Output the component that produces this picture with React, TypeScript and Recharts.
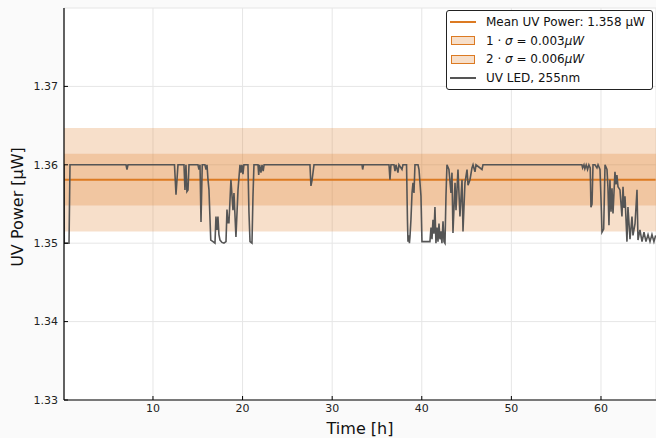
import React from "react";
import {
  ComposedChart,
  Line,
  XAxis,
  YAxis,
  CartesianGrid,
  ReferenceArea,
  Legend,
} from "recharts";

// time in hours
const times = [
  0.07, 0.1, 0.63, 0.74, 6.99, 7.1, 7.21, 12.4, 12.57, 12.79,
  13.46, 13.57, 13.68, 13.79, 13.91, 14.02, 15.02, 15.13, 15.25, 15.36,
  15.5, 15.8, 15.92, 16.03, 16.14, 16.25, 16.45, 16.7, 16.92, 17.03,
  17.14, 17.25, 17.36, 17.48, 17.7, 17.92, 18.15, 18.26, 18.37, 18.48,
  18.7, 18.93, 19.04, 19.26, 19.49, 19.71, 19.82, 19.93, 20.04, 20.15,
  20.6, 20.71, 20.83, 21.05, 21.16, 21.27, 21.72, 21.8, 21.9, 22.05,
  22.17, 22.3, 22.4, 27.52, 27.63, 27.75, 27.97, 33.33, 33.4, 33.5,
  36.34, 36.45, 36.56, 36.9, 37.01, 37.12, 37.34, 37.45, 37.79, 37.9,
  38.3, 38.4, 38.46, 38.57, 38.62, 38.68, 38.79, 38.91, 39.02, 39.13,
  39.24, 39.58, 39.69, 39.91, 40.02, 40.91, 41.03, 41.14, 41.25, 41.36,
  41.47, 41.58, 41.7, 41.81, 41.92, 42.03, 42.14, 42.25, 42.37, 42.48,
  42.59, 42.7, 42.81, 43.03, 43.26, 43.37, 43.48, 43.71, 43.82, 44.04,
  44.26, 44.49, 44.6, 44.82, 45.05, 45.16, 45.38, 45.6, 45.72, 45.94,
  46.05, 46.72, 46.83, 57.87, 57.95, 58.1, 58.2, 58.35, 58.5, 58.65,
  58.8, 58.88, 59.0, 59.11, 59.33, 59.55, 59.67, 59.89, 60.05, 60.11,
  60.3, 60.45, 60.67, 60.78, 60.89, 61.0, 61.12, 61.23, 61.34, 61.56,
  61.67, 61.78, 61.9, 62.12, 62.34, 62.46, 62.57, 62.68, 62.9, 63.01,
  63.24, 63.46, 63.57, 63.8, 64.02, 64.13, 64.35, 64.58, 64.8, 65.02,
  65.25, 65.47, 65.69, 65.91, 66.1,
];

// UV power in µW at each time
const uvPower = [
  1.36, 1.35, 1.35, 1.36, 1.36, 1.3594, 1.36, 1.36, 1.3562, 1.36,
  1.36, 1.3568, 1.36, 1.3566, 1.3568, 1.36, 1.36, 1.3594, 1.36, 1.3527,
  1.36, 1.36, 1.3594, 1.36, 1.3581, 1.3568, 1.3504, 1.3502, 1.35, 1.3534,
  1.3517, 1.3534, 1.3511, 1.3504, 1.3501, 1.35, 1.3502, 1.3543, 1.3526, 1.3526,
  1.3581, 1.3542, 1.3564, 1.3508, 1.3568, 1.36, 1.359, 1.36, 1.3588, 1.36,
  1.36, 1.354, 1.3502, 1.35, 1.356, 1.36, 1.36, 1.3587, 1.36, 1.359,
  1.36, 1.3592, 1.36, 1.36, 1.3573, 1.358, 1.36, 1.36, 1.3594, 1.36,
  1.36, 1.3581, 1.36, 1.36, 1.3592, 1.36, 1.359, 1.36, 1.3594, 1.36,
  1.36, 1.353, 1.3502, 1.351, 1.35, 1.3508, 1.353, 1.3564, 1.3577, 1.3564,
  1.36, 1.36, 1.3594, 1.356, 1.3502, 1.3502, 1.352, 1.3505, 1.353, 1.3512,
  1.3546, 1.35, 1.352, 1.3502, 1.3525, 1.3505, 1.3515, 1.35, 1.3528, 1.3502,
  1.35, 1.356, 1.36, 1.3594, 1.3564, 1.359, 1.3513, 1.3577, 1.3542, 1.3594,
  1.3534, 1.3581, 1.3515, 1.3577, 1.3594, 1.3574, 1.3581, 1.3596, 1.36, 1.3591,
  1.36, 1.3594, 1.36, 1.36, 1.3596, 1.36, 1.3595, 1.36, 1.3594, 1.36,
  1.3596, 1.3546, 1.355, 1.36, 1.36, 1.3596, 1.36, 1.3594, 1.354, 1.3514,
  1.3518, 1.36, 1.3594, 1.357, 1.3523, 1.3581, 1.354, 1.357, 1.3538, 1.3591,
  1.3575, 1.3587, 1.3572, 1.3568, 1.3534, 1.3572, 1.3545, 1.356, 1.3502, 1.3546,
  1.3505, 1.3534, 1.351, 1.3525, 1.3568, 1.3504, 1.3517, 1.3502, 1.3514, 1.3502,
  1.3511, 1.3502, 1.3511, 1.3502, 1.351,
];

const meanPower = 1.3581;
const sigma = 0.0033;

const xTicks = [10, 20, 30, 40, 50, 60];
const yTicks = [1.33, 1.34, 1.35, 1.36, 1.37];

const uvData = times.map((t, i) => ({ t, v: uvPower[i] }));
const meanData = [
  { t: times[0], m: meanPower },
  { t: times[times.length - 1], m: meanPower },
];

const ORANGE = "#dc7a22";
const GRAY = "#555555";
const FONT = "DejaVu Sans";

const XTick = (props: any) => {
  const { x, y, payload } = props;
  return (
    <g>
      <line x1={x} x2={x} y1={y - 4} y2={y - 8} stroke="#000" strokeWidth={1} />
      <text x={x} y={y} dy="0.71em" textAnchor="middle" fontSize={11} fontFamily={FONT} fill="#222">
        {payload.value}
      </text>
    </g>
  );
};

const YTick = (props: any) => {
  const { x, y, payload } = props;
  return (
    <g>
      <line x1={x + 6} x2={x + 10} y1={y} y2={y} stroke="#000" strokeWidth={1} />
      <text x={x} y={y} dy="0.35em" textAnchor="end" fontSize={11} fontFamily={FONT} fill="#222">
        {payload.value.toFixed(2)}
      </text>
    </g>
  );
};

const LegendBox = () => {
  const row = { display: "flex", alignItems: "center", height: 18.6 };
  const sw = { width: 26, marginRight: 10, display: "flex", justifyContent: "center" };
  const patch = {
    width: 22,
    height: 7,
    border: `1.5px solid ${ORANGE}`,
    background: "rgba(220,122,34,0.24)",
  };
  return (
    <div
      style={{
        fontFamily: FONT,
        fontSize: 12,
        color: "#111",
        background: "#fff",
        border: "1px solid #222",
        borderRadius: 3,
        padding: "2px 6px 2px 3px",
        lineHeight: "14px",
      }}
    >
      <div style={row}>
        <div style={sw}><div style={{ width: 26, height: 2, background: ORANGE }} /></div>
        <span>Mean UV Power: 1.358 μW</span>
      </div>
      <div style={row}>
        <div style={sw}><div style={patch} /></div>
        <span>1 · <i>σ</i> = 0.003<i>μW</i></span>
      </div>
      <div style={row}>
        <div style={sw}><div style={patch} /></div>
        <span>2 · <i>σ</i> = 0.006<i>μW</i></span>
      </div>
      <div style={row}>
        <div style={sw}><div style={{ width: 26, height: 2, background: GRAY }} /></div>
        <span>UV LED, 255nm</span>
      </div>
    </div>
  );
};

const YLabel = (props: any) => {
  const vb = props.viewBox;
  const cx = 17;
  const cy = vb.y + vb.height / 2 + 3;
  return (
    <text
      x={cx}
      y={cy}
      transform={`rotate(-90 ${cx} ${cy})`}
      textAnchor="middle"
      dominantBaseline="central"
      fontSize={16}
      fontFamily={FONT}
      fill="#111"
    >
      UV Power [μW]
    </text>
  );
};

export default function App() {
  return (
    <div style={{ position: "absolute", left: 0, top: 0, width: 656, height: 438, background: "#fafafa" }}>
      <ComposedChart width={656} height={438} data={uvData} margin={{ top: 8, right: 0, bottom: 0, left: 0 }}>
        <CartesianGrid stroke="#e6e6e6" fill="#ffffff" vertical horizontal />
        <XAxis
          dataKey="t"
          type="number"
          domain={[0.07, 66.14]}
          ticks={xTicks}
          allowDataOverflow
          height={38}
          tickLine={false}
          tickSize={0}
          tickMargin={4}
          tick={<XTick />}
          axisLine={{ stroke: "#000", strokeWidth: 1.2 }}
          label={{ value: "Time [h]", position: "insideBottom", offset: 4, fontSize: 16, fontFamily: FONT, fill: "#111" }}
        />
        <YAxis
          type="number"
          domain={[1.33, 1.38]}
          ticks={yTicks}
          allowDataOverflow
          width={64}
          tickLine={false}
          tickSize={0}
          tickMargin={6}
          tick={<YTick />}
          axisLine={{ stroke: "#000", strokeWidth: 1.2 }}
          label={{ content: <YLabel /> }}
        />
        <ReferenceArea
          y1={meanPower - 2 * sigma}
          y2={meanPower + 2 * sigma}
          fill={ORANGE}
          fillOpacity={0.24}
          stroke="none"
          ifOverflow="hidden"
        />
        <ReferenceArea
          y1={meanPower - sigma}
          y2={meanPower + sigma}
          fill={ORANGE}
          fillOpacity={0.24}
          stroke="none"
          ifOverflow="hidden"
        />
        <Line
          data={meanData}
          dataKey="m"
          type="linear"
          stroke={ORANGE}
          strokeWidth={2}
          dot={false}
          isAnimationActive={false}
        />
        <Line
          dataKey="v"
          type="linear"
          stroke={GRAY}
          strokeWidth={1.6}
          dot={false}
          isAnimationActive={false}
        />
        <Legend
          layout="vertical"
          align="center"
          verticalAlign="middle"
          content={<LegendBox />}
          wrapperStyle={{ top: 10, left: 446, width: 207 }}
        />
      </ComposedChart>
    </div>
  );
}
